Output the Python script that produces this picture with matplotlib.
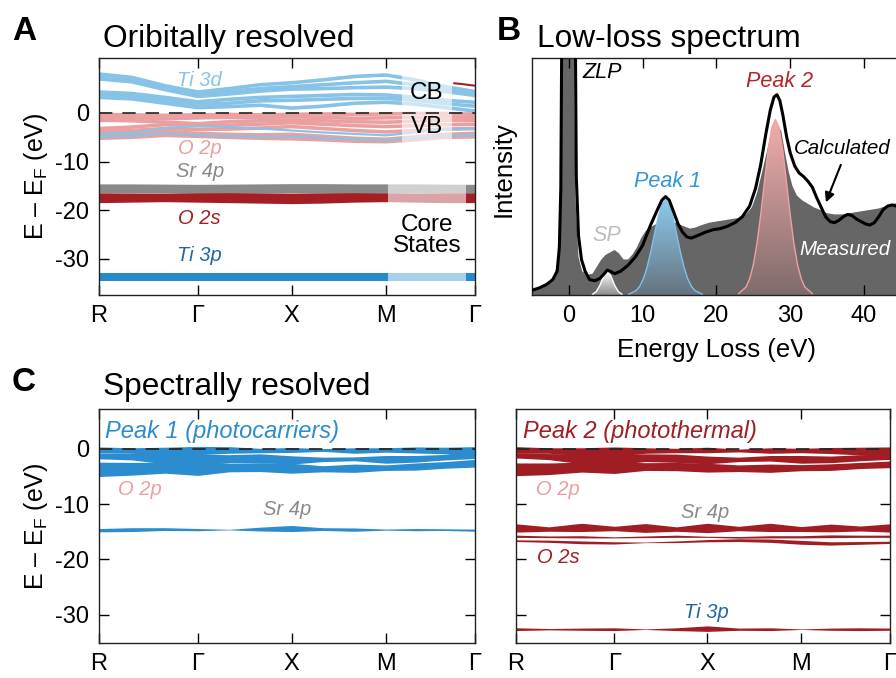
import numpy as np
import matplotlib
matplotlib.use('Agg')
import matplotlib.pyplot as plt
from matplotlib.patches import Rectangle

plt.rcParams['font.family'] = ['Liberation Sans', 'DejaVu Sans']
plt.rcParams['mathtext.fontset'] = 'custom'
plt.rcParams['mathtext.rm'] = 'Liberation Sans'
plt.rcParams['mathtext.it'] = 'Liberation Sans:italic'
plt.rcParams['axes.linewidth'] = 1.0
plt.rcParams['axes.edgecolor'] = '#222222'

# ---- k path: R - G - X - M - G (13 samples, 2 between each symmetry point)
sym_k = [0.0, 0.263, 0.512, 0.763, 1.0]
sym_labels = ['R', 'Γ', 'X', 'M', 'Γ']
kpts = np.concatenate([np.linspace(sym_k[i], sym_k[i + 1], 4)[:-1] for i in range(4)] + [[1.0]])

# ---- panel A: bands by orbital character (eV)
ti3d_bands = [
    [8.0, 7.3, 5.6, 4.3, 5.0, 5.8, 6.2, 6.8, 7.5, 7.8, 6.8, 5.4, 4.4],
    [7.4, 6.8, 5.2, 3.8, 4.4, 5.0, 5.4, 5.8, 6.2, 6.5, 5.8, 4.8, 4.0],
    [7.0, 6.4, 4.8, 3.4, 3.9, 4.5, 4.9, 5.0, 5.2, 5.3, 5.0, 4.4, 3.6],
    [4.3, 4.0, 3.2, 2.3, 2.8, 3.2, 3.4, 3.6, 3.8, 3.7, 3.2, 2.6, 2.2],
    [3.8, 3.5, 2.6, 1.7, 2.0, 2.5, 2.6, 2.8, 3.0, 3.0, 2.6, 1.9, 1.4],
    [3.2, 2.9, 2.0, 1.1, 1.3, 1.6, 1.0, 1.4, 2.0, 2.2, 1.8, 1.1, 0.4],
]
o2p_bands = [
    [-0.3, -0.4, -0.5, -0.4, -0.3, -0.4, -0.3, -0.2, -0.3, -0.2, -0.1, -0.1, -0.3],
    [-0.9, -1.0, -1.2, -1.0, -0.9, -1.0, -0.8, -0.9, -1.1, -1.0, -0.9, -0.8, -0.9],
    [-1.5, -1.6, -1.9, -2.2, -1.8, -1.6, -1.5, -1.6, -1.8, -1.9, -1.7, -1.5, -1.5],
    [-3.2, -2.9, -2.4, -2.6, -2.5, -2.3, -2.0, -2.3, -2.6, -2.8, -2.6, -2.4, -2.3],
    [-3.8, -3.6, -3.2, -3.4, -3.3, -3.1, -2.8, -3.2, -3.6, -3.9, -3.6, -3.3, -3.2],
    [-4.6, -4.3, -3.8, -4.2, -4.4, -4.5, -4.4, -4.8, -5.2, -5.4, -4.9, -4.4, -4.2],
    [-5.2, -5.0, -4.6, -4.8, -5.0, -5.2, -5.3, -5.5, -5.8, -5.9, -5.5, -5.0, -4.9],
]
ti3d_in_vb = [
    [-4.3, -4.1, -3.1, -2.7, -2.9, -3.2, -3.6, -4.0, -4.3, -4.6, -4.0, -3.4, -3.3],
    [-4.9, -4.7, -4.2, -4.6, -4.7, -4.9, -4.8, -5.1, -5.4, -5.6, -5.2, -4.7, -4.5],
]
sr4p_bands = [
    [-15.1, -15.1, -15.15, -15.2, -15.15, -15.1, -15.05, -15.05, -15.1, -15.1, -15.1, -15.15, -15.2],
    [-15.6, -15.65, -15.7, -15.7, -15.65, -15.6, -15.6, -15.65, -15.7, -15.7, -15.65, -15.65, -15.7],
    [-16.1, -16.1, -16.15, -16.2, -16.15, -16.1, -16.05, -16.1, -16.15, -16.15, -16.1, -16.1, -16.15],
]
o2s_bands = [
    [-16.95, -17.0, -17.05, -16.95, -16.9, -16.95, -17.0, -16.95, -16.9, -16.95, -17.0, -16.95, -16.95],
    [-17.5, -17.55, -17.6, -17.5, -17.6, -17.7, -17.6, -17.5, -17.6, -17.55, -17.5, -17.6, -17.6],
    [-18.1, -18.0, -17.9, -18.0, -18.1, -18.2, -18.3, -18.2, -18.0, -17.9, -18.0, -18.1, -18.1],
]
ti3p_band = [-33.7, -33.7, -33.7, -33.7, -33.7, -33.7, -33.7, -33.7, -33.7, -33.7, -33.7, -33.7, -33.7]
red_cb_k = [0.945, 0.97, 1.0]
red_cb_e = [6.1, 5.9, 5.6]

# ---- panel B: low-loss spectrum (intensity normalised to axis height)
meas_e = [-5, -4, -3, -2.2, -1.6, -1.1, -0.8, 0, 0.5, 0.9, 1.3, 1.8, 2.5, 3.2, 3.8, 4.4, 5.0,
          5.6, 6.2, 6.8, 7.4, 8.0, 8.6, 9.2, 9.8, 10.4, 11.0, 11.6, 12.4, 13.2, 14.0, 14.8,
          15.6, 16.4, 17.2, 18.0, 19.0, 20.0, 21.0, 22.0, 23.0, 24.0, 24.8, 25.5, 26.2, 26.8,
          27.4, 27.9, 28.3, 28.8, 29.3, 29.8, 30.3, 30.9, 31.6, 32.4, 33.2, 34.0, 35.0, 36.0,
          37.0, 38.0, 39.0, 40.0, 41.0, 42.0, 43.0, 44.0, 45.0]
meas_i = [0.025, 0.03, 0.045, 0.07, 0.12, 0.3, 1.5, 3.0, 1.5, 0.4, 0.16, 0.1, 0.085, 0.09, 0.12,
          0.15, 0.17, 0.18, 0.19, 0.175, 0.15, 0.15, 0.17, 0.2, 0.24, 0.27, 0.285, 0.295, 0.31,
          0.32, 0.31, 0.30, 0.29, 0.28, 0.285, 0.295, 0.305, 0.31, 0.315, 0.32, 0.325, 0.34,
          0.37, 0.43, 0.52, 0.60, 0.68, 0.72, 0.72, 0.69, 0.60, 0.52, 0.46, 0.42, 0.40, 0.385,
          0.37, 0.36, 0.345, 0.34, 0.34, 0.345, 0.35, 0.355, 0.36, 0.365, 0.375, 0.385, 0.39]
calc_e = [-5.0, -4.0, -3.0, -2.2, -1.6, -1.3, -1.1, -0.95, 0, 0.85, 1.0, 1.3, 1.7, 2.2, 2.8,
          3.5, 4.2, 4.8, 5.2, 5.6, 6.2, 7.0, 8.0, 9.0, 10.0, 11.0, 12.0, 12.6, 13.1, 13.6,
          14.2, 14.8, 15.4, 16.0, 16.6, 17.4, 18.5, 19.5, 20.5, 21.5, 22.5, 23.5, 24.5, 25.3,
          26.0, 26.7, 27.3, 27.8, 28.2, 28.6, 29.0, 29.5, 30.0, 30.6, 31.2, 31.8, 32.4, 33.0,
          33.6, 34.2, 34.8, 35.4, 36.0, 36.6, 37.2, 37.8, 38.4, 39.0, 39.6, 40.2, 40.8, 41.4,
          42.0, 42.6, 43.2, 43.8, 44.4, 45.0]
calc_i = [0.02, 0.03, 0.045, 0.065, 0.1, 0.2, 0.45, 1.2, 3.0, 1.2, 0.5, 0.25, 0.15, 0.1,
          0.065, 0.06, 0.07, 0.09, 0.105, 0.10, 0.09, 0.10, 0.125, 0.16, 0.21, 0.29, 0.36,
          0.40, 0.415, 0.40, 0.35, 0.30, 0.265, 0.245, 0.24, 0.25, 0.265, 0.275, 0.28, 0.29,
          0.305, 0.33, 0.375, 0.45, 0.55, 0.68, 0.78, 0.835, 0.845, 0.82, 0.76, 0.67, 0.60,
          0.545, 0.515, 0.50, 0.48, 0.455, 0.41, 0.37, 0.33, 0.31, 0.305, 0.315, 0.33, 0.34,
          0.335, 0.32, 0.31, 0.30, 0.295, 0.305, 0.33, 0.36, 0.375, 0.38, 0.375, 0.37]
sp_e = [3.2, 3.7, 4.2, 4.7, 5.2, 5.7, 6.2, 6.7, 7.2]
sp_i = [0.003, 0.014, 0.041, 0.080, 0.10, 0.080, 0.041, 0.014, 0.003]
peak1_e = [8.1, 9.1, 9.6, 10.1, 10.6, 11.1, 11.6, 12.1, 12.6, 13.1, 13.6, 14.1, 14.6, 15.1,
           15.6, 16.1, 16.6, 17.1, 18.1]
peak1_i = [0.003, 0.018, 0.037, 0.069, 0.118, 0.183, 0.258, 0.329, 0.381, 0.40, 0.381, 0.329,
           0.258, 0.183, 0.118, 0.069, 0.037, 0.018, 0.003]
peak2_e = [23.0, 24.0, 24.5, 25.0, 25.5, 26.0, 26.5, 27.0, 27.5, 28.0, 28.5, 29.0, 29.5, 30.0,
           30.5, 31.0, 31.5, 32.0, 33.0]
peak2_i = [0.006, 0.033, 0.068, 0.127, 0.218, 0.339, 0.477, 0.609, 0.705, 0.74, 0.705, 0.609,
           0.477, 0.339, 0.218, 0.127, 0.068, 0.033, 0.006]

# ---- panel C: band weights for each loss peak (centre, half width in eV)
p1_centre = [
    [-0.2, -0.3, -0.4, -0.3, -0.2, -0.3, -0.2, -0.2, -0.3, -0.2, -0.2, -0.3, -0.6],
    [-1.3, -1.4, -1.7, -1.9, -1.8, -1.7, -2.0, -1.9, -1.8, -1.9, -1.8, -1.5, -1.4],
    [-3.7, -3.6, -3.4, -3.5, -3.4, -3.3, -3.5, -3.6, -3.5, -3.4, -3.2, -2.9, -2.6],
    [-14.7, -14.6, -14.5, -14.6, -14.6, -14.5, -14.4, -14.5, -14.6, -14.6, -14.6, -14.6, -14.7],
]
p1_width = [
    [0.55, 0.50, 0.70, 0.75, 0.60, 0.40, 0.45, 0.25, 0.50, 0.40, 0.55, 0.60, 1.00],
    [0.50, 0.60, 1.00, 0.95, 0.75, 0.80, 0.75, 0.40, 0.35, 0.70, 0.60, 0.50, 0.35],
    [1.30, 1.15, 1.00, 1.30, 0.75, 0.80, 0.90, 0.55, 0.75, 0.50, 0.65, 0.60, 0.70],
    [0.30, 0.35, 0.25, 0.20, 0.05, 0.35, 0.55, 0.25, 0.30, 0.10, 0.20, 0.15, 0.20],
]
p2_centre = [
    [-0.2, -0.3, -0.5, -0.5, -0.3, -0.3, -0.2, -0.3, -0.3, -0.3, -0.3, -0.4, -0.6],
    [-1.2, -1.4, -1.8, -1.9, -1.6, -1.7, -2.0, -1.9, -1.7, -1.9, -1.9, -1.6, -1.5],
    [-3.7, -3.6, -3.3, -3.4, -3.2, -3.2, -3.4, -3.5, -3.5, -3.4, -3.3, -3.0, -2.8],
    [-14.3, -14.5, -14.2, -14.4, -14.3, -14.5, -14.3, -14.4, -14.2, -14.5, -14.3, -14.4, -14.3],
    [-15.8, -15.9, -15.9, -16.0, -15.9, -15.8, -15.9, -16.0, -15.9, -15.9, -15.8, -15.8, -15.8],
    [-16.6, -16.7, -16.9, -17.0, -16.9, -16.8, -16.6, -16.5, -16.6, -16.9, -17.1, -17.0, -16.9],
    [-32.6, -32.6, -32.6, -32.6, -32.6, -32.6, -32.5, -32.6, -32.6, -32.6, -32.6, -32.6, -32.6],
]
p2_width = [
    [0.60, 0.50, 0.70, 0.85, 0.50, 0.40, 0.50, 0.25, 0.50, 0.40, 0.55, 0.70, 0.95],
    [0.45, 0.55, 0.90, 0.95, 0.70, 0.75, 0.70, 0.40, 0.50, 0.70, 0.60, 0.55, 0.40],
    [1.15, 1.05, 0.90, 1.05, 0.70, 0.75, 0.80, 0.60, 0.75, 0.55, 0.60, 0.55, 0.60],
    [0.75, 0.40, 0.75, 0.40, 0.80, 0.40, 0.85, 0.40, 0.75, 0.45, 0.70, 0.45, 0.75],
    [0.20, 0.15, 0.20, 0.10, 0.15, 0.20, 0.10, 0.15, 0.20, 0.20, 0.25, 0.20, 0.20],
    [0.15, 0.20, 0.25, 0.20, 0.05, 0.15, 0.20, 0.25, 0.30, 0.35, 0.30, 0.25, 0.20],
    [0.25, 0.12, 0.20, 0.25, 0.05, 0.25, 0.50, 0.20, 0.25, 0.05, 0.20, 0.25, 0.20],
]

c_ti3d = '#86c3e6'
c_o2p = '#eaa0a0'
c_sr4p = '#8a8a8a'
c_o2s = '#a51e23'
c_ti3p = '#288acd'
c_ti3p_txt = '#2364a5'
c_peak1 = '#2b8ccf'
c_peak2 = '#a01e23'

fig = plt.figure(figsize=(8.96, 6.78), dpi=100)


def px(x, y):
    return x / 896, 1 - y / 678


def band_frame(ax, ylim, ylabels=True):
    ax.set_xlim(0, 1)
    ax.set_ylim(*ylim)
    ax.set_xticks(sym_k)
    ax.set_xticklabels(sym_labels)
    ax.set_yticks([0, -10, -20, -30])
    ax.set_yticklabels(['0', '-10', '-20', '-30'] if ylabels else [])
    ax.tick_params(direction='in', top=True, right=True, length=7, width=1,
                   labelsize=17, pad=7)
    ax.axhline(0, color='#222222', lw=1.2, ls=(0, (8, 6)), zorder=6)
    if ylabels:
        ax.set_ylabel(r'E – E$_\mathrm{F}$ (eV)', fontsize=18, labelpad=4)


# ================= A =================
axA = fig.add_axes([0.1105, 0.5649, 0.4196, 0.3496])
for b in ti3d_bands:
    axA.plot(kpts, b, color=c_ti3d, lw=2.6, solid_capstyle='butt', zorder=2)
for b in o2p_bands:
    axA.plot(kpts, b, color=c_o2p, lw=2.6, solid_capstyle='butt', zorder=2)
for b in ti3d_in_vb:
    axA.plot(kpts, b, color=c_ti3d, lw=1.6, solid_capstyle='butt', zorder=2)
for b in sr4p_bands:
    axA.plot(kpts, b, color=c_sr4p, lw=3.0, solid_capstyle='butt', zorder=2)
for b in o2s_bands:
    axA.plot(kpts, b, color=c_o2s, lw=3.0, solid_capstyle='butt', zorder=2)
axA.plot(kpts, ti3p_band, color=c_ti3p, lw=5.8, solid_capstyle='butt', zorder=2)
axA.plot(red_cb_k, red_cb_e, color=c_o2s, lw=1.5, zorder=2)
band_frame(axA, (-37.4, 11.3))

# translucent boxes behind CB/VB and core-state labels
axA.add_patch(Rectangle((0.806, -6.0), 0.133, 14.2, facecolor='white', alpha=0.6,
                        edgecolor='none', zorder=3))
axA.add_patch(Rectangle((0.769, -34.6), 0.207, 20.2, facecolor='white', alpha=0.6,
                        edgecolor='none', zorder=3))
axA.text(0.872, 4.1, 'CB', fontsize=17.5, ha='center', va='center', zorder=7)
axA.text(0.872, -2.9, 'VB', fontsize=17.5, ha='center', va='center', zorder=7)
axA.text(0.872, -25.1, 'Core\nStates', fontsize=17.5, ha='center', va='center',
         linespacing=0.95, zorder=7)
lab = dict(fontsize=14.5, style='italic', ha='center', va='center', zorder=7)
axA.text(0.268, 6.6, 'Ti 3d', color=c_ti3d, **lab)
axA.text(0.268, -7.2, 'O 2p', color=c_o2p, **lab)
axA.text(0.268, -12.1, 'Sr 4p', color=c_sr4p, **lab)
axA.text(0.268, -21.6, 'O 2s', color=c_o2s, **lab)
axA.text(0.268, -29.2, 'Ti 3p', color=c_ti3p_txt, **lab)

# ================= B =================
axB = fig.add_axes([0.5938, 0.5649, 0.4116, 0.3496])
axB.fill_between(meas_e, 0, meas_i, color='#666666', lw=0, zorder=1)


def gradient_peak(ax, e, i, top, bottom, edge):
    poly = ax.fill_between(e, 0, i, facecolor='none', edgecolor='none')
    t = np.linspace(1, 0, 200)[:, None, None]
    img = np.array(bottom)[None, None, :] + (np.array(top) - np.array(bottom))[None, None, :] * t
    im = ax.imshow(img, extent=[min(e), max(e), 0, max(i)], aspect='auto',
                   origin='upper', zorder=2)
    im.set_clip_path(poly.get_paths()[0], transform=ax.transData)
    ax.plot(e, i, color=edge, lw=1.0, zorder=2)


gradient_peak(axB, sp_e, sp_i, (1.0, 1.0, 1.0), (0.55, 0.55, 0.55), 'white')
gradient_peak(axB, peak1_e, peak1_i, (0.55, 0.79, 0.93), (0.40, 0.45, 0.50), '#7fc2ea')
gradient_peak(axB, peak2_e, peak2_i, (0.95, 0.68, 0.68), (0.50, 0.42, 0.42), '#f0a0a0')
axB.plot(calc_e, calc_i, color='black', lw=2.2, zorder=4)

axB.set_xlim(-5, 45)
axB.set_ylim(0, 1)
axB.set_yticks([])
axB.set_xticks([0, 10, 20, 30, 40])
axB.tick_params(direction='in', top=True, length=7, width=1, labelsize=17, pad=7)
axB.set_xlabel('Energy Loss (eV)', fontsize=18.5, labelpad=8)
axB.set_ylabel('Intensity', fontsize=18.5, labelpad=5)
axB.yaxis.set_label_coords(-0.045, 0.53)

ib = dict(fontsize=15.5, style='italic', va='center', zorder=6)
axB.text(1.8, 0.94, 'ZLP', color='black', ha='left', **ib)
axB.text(28.6, 0.90, 'Peak 2', color='#b4232a', ha='center', **ib)
axB.text(13.4, 0.477, 'Peak 1', color='#3296d7', ha='center', **ib)
axB.text(5.15, 0.253, 'SP', color='#bdbdbd', ha='center', **ib)
ib_edge = dict(ib, fontsize=14.8)
axB.text(30.5, 0.62, 'Calculated', color='black', ha='left', **ib_edge)
axB.text(31.2, 0.19, 'Measured', color='white', ha='left', **ib_edge)
axB.annotate('', xy=(34.7, 0.38), xytext=(37.0, 0.56),
             arrowprops=dict(arrowstyle='-|>', color='black', lw=1.5,
                             mutation_scale=14), zorder=6)

# ================= C =================
axC1 = fig.add_axes([0.1105, 0.0516, 0.4196, 0.3451])
for c, w in zip(p1_centre, p1_width):
    c, w = np.array(c), np.array(w)
    axC1.fill_between(kpts, c - w, c + w, color=c_peak1, lw=0, zorder=2)
band_frame(axC1, (-35.1, 7.2))
axC1.text(0.016, 3.1, 'Peak 1 (photocarriers)', color=c_peak1, fontsize=17,
          style='italic', ha='left', va='center')
axC1.text(0.11, -7.4, 'O 2p', color=c_o2p, **lab)
axC1.text(0.50, -11.0, 'Sr 4p', color=c_sr4p, **lab)

axC2 = fig.add_axes([0.5759, 0.0516, 0.4174, 0.3451])
for c, w in zip(p2_centre, p2_width):
    c, w = np.array(c), np.array(w)
    axC2.fill_between(kpts, c - w, c + w, color=c_peak2, lw=0, zorder=2)
band_frame(axC2, (-35.1, 7.2), ylabels=False)
axC2.text(0.019, 3.1, 'Peak 2 (photothermal)', color=c_peak2, fontsize=17,
          style='italic', ha='left', va='center')
axC2.text(0.113, -7.4, 'O 2p', color=c_o2p, **lab)
axC2.text(0.505, -11.5, 'Sr 4p', color=c_sr4p, **lab)
axC2.text(0.113, -19.6, 'O 2s', color=c_o2s, **lab)
axC2.text(0.51, -29.5, 'Ti 3p', color=c_ti3p_txt, **lab)

# ---- panel letters and titles
fig.text(*px(12, 40), 'A', fontsize=24, fontweight='bold', va='baseline')
fig.text(*px(103, 47), 'Oribitally resolved', fontsize=22.8, va='baseline')
fig.text(*px(497, 40), 'B', fontsize=24, fontweight='bold', va='baseline')
fig.text(*px(537, 47), 'Low-loss spectrum', fontsize=22.8, va='baseline')
fig.text(*px(12, 391), 'C', fontsize=24, fontweight='bold', va='baseline')
fig.text(*px(103, 395), 'Spectrally resolved', fontsize=22.8, va='baseline')

fig.savefig('out.png', dpi=100)
